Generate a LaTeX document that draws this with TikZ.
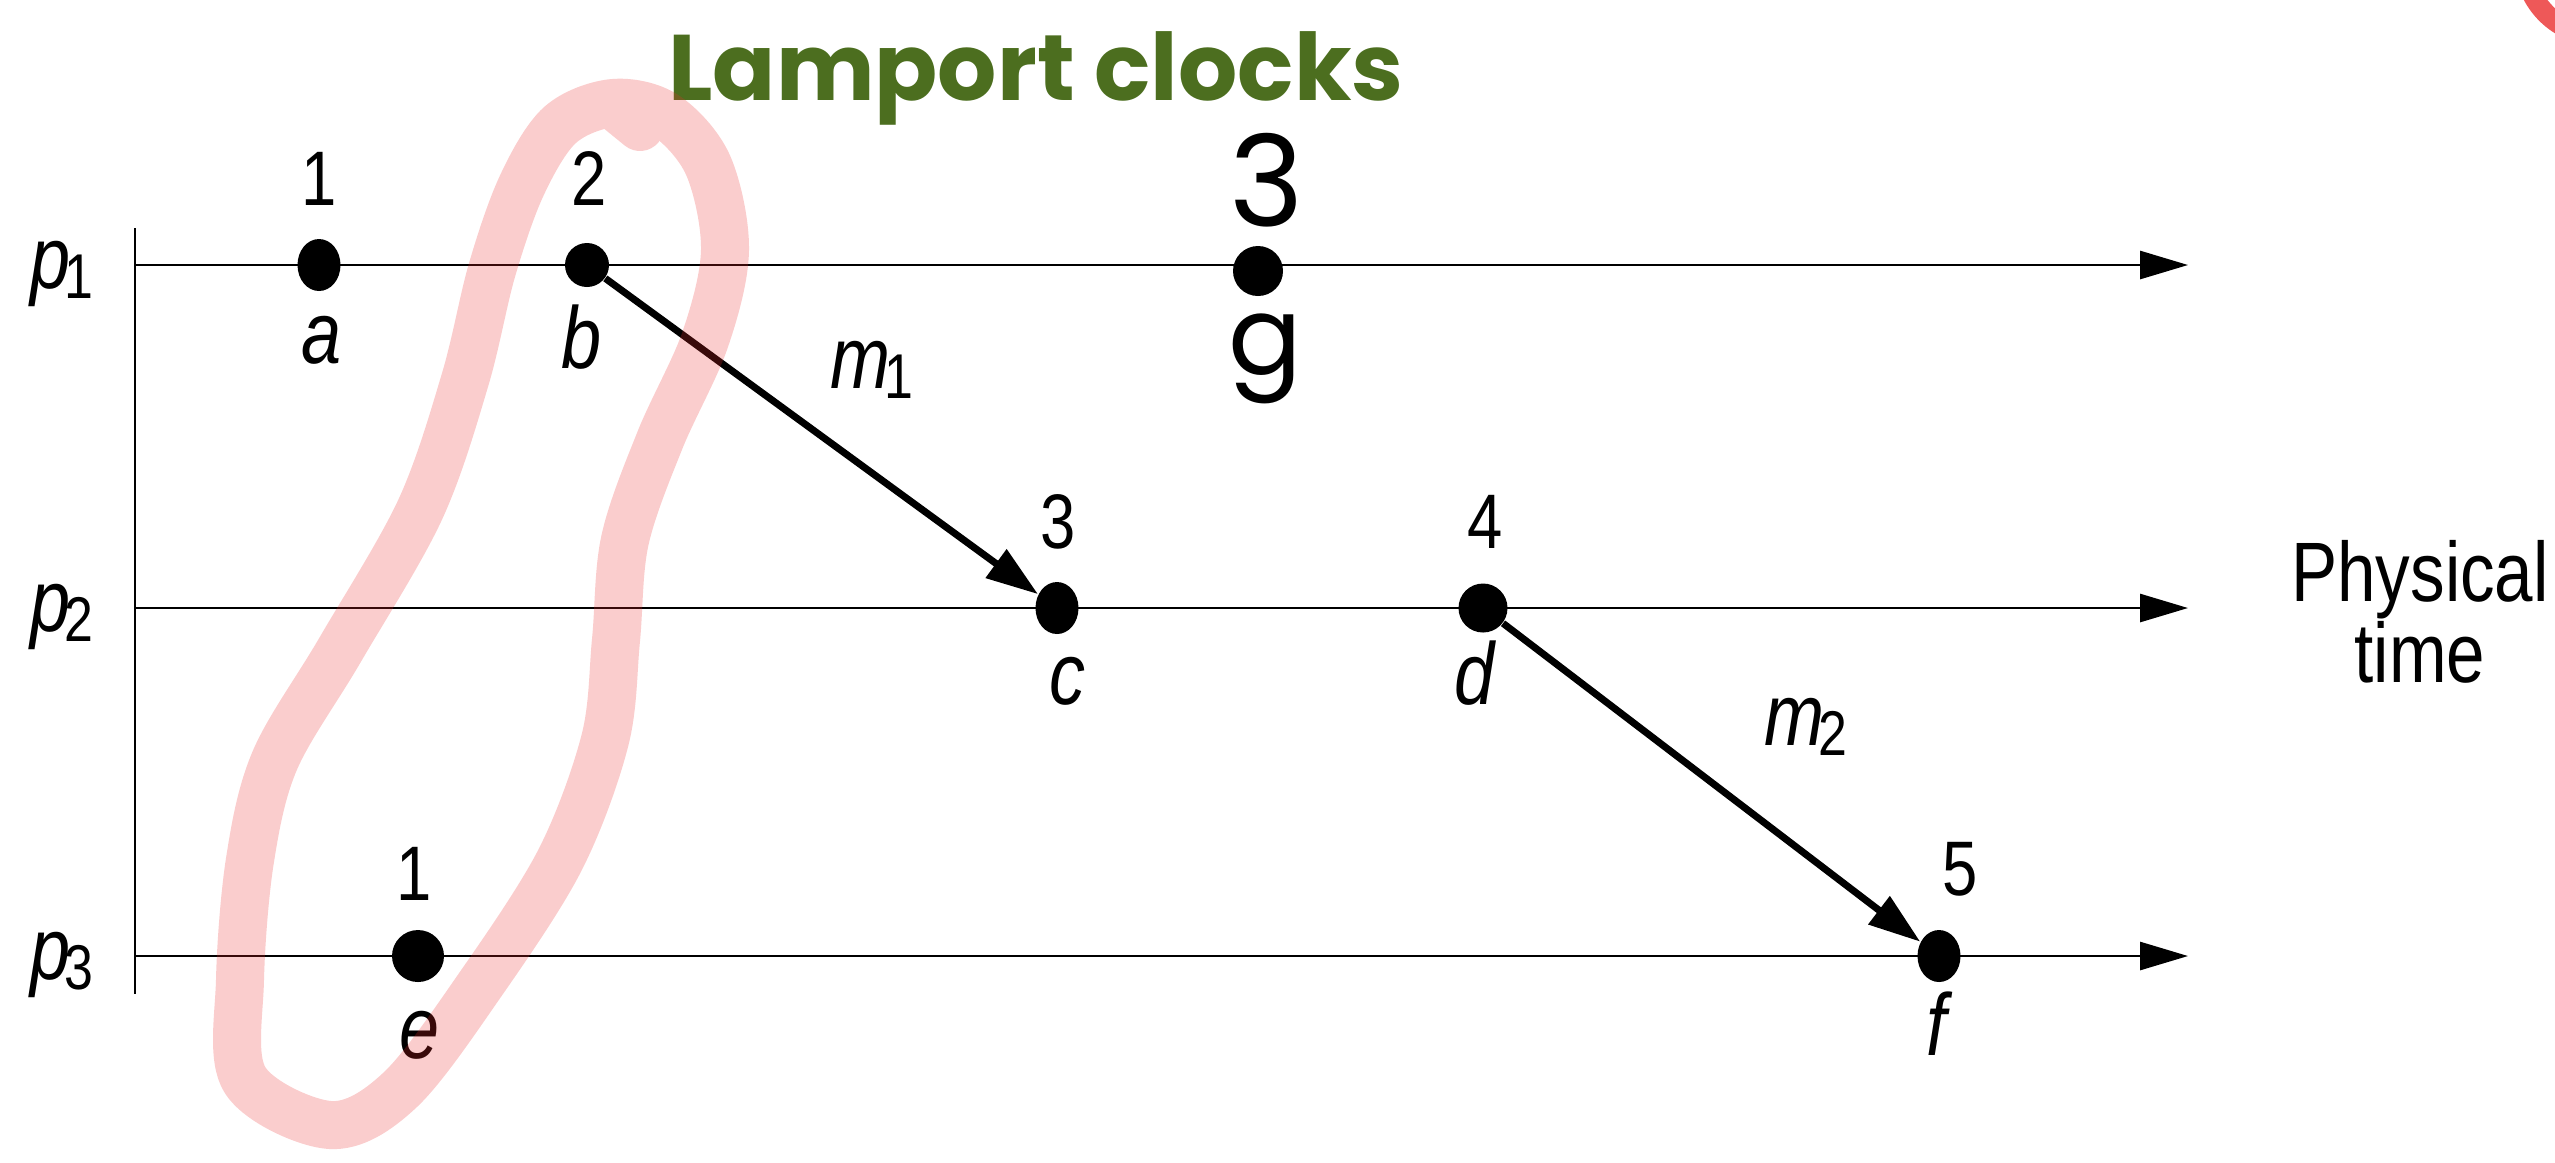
\documentclass[tikz,border=0pt]{standalone}
\usepackage{fontspec}
\setmainfont[FakeStretch=0.82]{Liberation Sans}
\newfontfamily\titlefont{Poppins}
\usetikzlibrary{arrows.meta,shapes.geometric}

\definecolor{lamportgreen}{RGB}{76,110,31}
\definecolor{markred}{RGB}{235,45,45}
\definecolor{cornerred}{RGB}{238,88,88}

% italic name with a lowered upright index
\newcommand{\lsub}[2]{\textit{#1}\kern-0.06em\raisebox{-3pt}{\fontsize{18}{18}\selectfont #2}}

\begin{document}
\begin{tikzpicture}[x=1cm,y=1cm]
\tikzset{
  eventdot/.style={ellipse,fill=black,minimum width=4.3mm,minimum height=5.2mm,inner sep=0pt},
  rounddot/.style={circle,fill=black,minimum size=#1,inner sep=0pt},
  clocklabel/.style={anchor=base,inner sep=0pt,font=\fontsize{22}{22}\selectfont},
  eventlabel/.style={anchor=base,inner sep=0pt,font=\fontsize{25}{25}\selectfont\itshape},
  proclabel/.style={anchor=base,inner sep=0pt,font=\fontsize{25}{25}\selectfont},
  timeline/.style={draw=black,line width=0.8pt,-{Triangle[length=4.8mm,width=2.8mm]}},
  axisline/.style={draw=black,line width=0.8pt},
  message/.style={draw=black,line width=2pt,-{Triangle[length=5.2mm,width=3.4mm]}},
  handmark/.style={draw=markred,line width=4.8mm,line cap=round,line join=round},
  handtext/.style={anchor=base,inner sep=0pt,font=\titlefont}
}
\useasboundingbox (0,0) rectangle (25.55,-11.62);

% title
\node[handtext,text=lamportgreen,font=\titlefont\bfseries\fontsize{26.5}{26.5}\selectfont] (n_title) at (10.36,-1.00) {Lamport clocks};

% process lines
\coordinate (v_top) at (1.35,-2.28);
\coordinate (v_bot) at (1.35,-9.94);
\coordinate (s_1) at (1.35,-2.65);
\coordinate (t_1) at (21.88,-2.65);
\coordinate (s_2) at (1.35,-6.08);
\coordinate (t_2) at (21.88,-6.08);
\coordinate (s_3) at (1.35,-9.56);
\coordinate (t_3) at (21.88,-9.56);
\draw[axisline] (v_top) -- (v_bot);
\draw[timeline] (s_1) -- (t_1);
\draw[timeline] (s_2) -- (t_2);
\draw[timeline] (s_3) -- (t_3);

\node[proclabel] (n_p1) at (0.62,-2.88) {\lsub{p}{1}};
\node[proclabel] (n_p2) at (0.62,-6.31) {\lsub{p}{2}};
\node[proclabel] (n_p3) at (0.62,-9.79) {\lsub{p}{3}};

% events
\node[eventdot] (n_a) at (3.19,-2.65) {};
\node[rounddot=4.4mm] (n_b) at (5.87,-2.65) {};
\node[rounddot=5mm] (n_g) at (12.58,-2.71) {};
\node[eventdot] (n_c) at (10.57,-6.08) {};
\node[rounddot=4.9mm] (n_d) at (14.83,-6.08) {};
\node[rounddot=5.2mm] (n_e) at (4.18,-9.56) {};
\node[eventdot] (n_f) at (19.39,-9.56) {};

% clock values
\node[clocklabel] (n_ta) at (3.19,-2.05) {1};
\node[clocklabel] (n_tb) at (5.89,-2.05) {2};
\node[clocklabel] (n_tc) at (10.58,-5.48) {3};
\node[clocklabel] (n_td) at (14.85,-5.48) {4};
\node[clocklabel] (n_te) at (4.14,-9.00) {1};
\node[clocklabel] (n_tf) at (19.60,-8.95) {5};
\node[handtext,font=\titlefont\fontsize{36}{36}\selectfont] (n_tg) at (12.67,-2.26) {3};

% event names
\node[eventlabel] (n_la) at (3.22,-3.63) {a};
\node[eventlabel] (n_lb) at (5.82,-3.68) {b};
\node[eventlabel] (n_lc) at (10.67,-7.04) {c};
\node[eventlabel] (n_ld) at (14.75,-7.04) {d};
\node[eventlabel] (n_le) at (4.20,-10.58) {e};
\node[eventlabel] (n_lf) at (19.36,-10.55) {f};
\node[handtext,font=\titlefont\fontsize{31}{31}\selectfont] (n_lg) at (12.65,-3.74) {g};

% messages
\draw[message] (n_b) -- (n_c);
\draw[message] (n_d) -- (n_f);
\node[proclabel] (n_m1) at (8.72,-3.88) {\lsub{m}{1}};
\node[proclabel] (n_m2) at (18.06,-7.45) {\lsub{m}{2}};

\node[inner sep=0pt,anchor=north,align=center,font=\fontsize{24}{23}\selectfont] (n_phys) at (24.20,-5.40) {Physical\\time};

% hand drawn marks
\begin{scope}[transparency group,opacity=0.24]
\draw[handmark] plot[smooth cycle,tension=0.55] coordinates {
  (6.13,-1.03) (5.60,-1.25) (5.22,-1.85) (4.92,-2.70) (4.65,-3.80) (4.20,-5.10)
  (3.40,-6.50) (2.75,-7.60) (2.50,-8.60) (2.40,-9.80) (2.45,-10.80) (3.30,-11.25)
  (4.00,-10.90) (4.80,-9.85) (5.60,-8.60) (6.05,-7.40) (6.16,-6.40) (6.25,-5.40)
  (6.60,-4.40) (7.05,-3.40) (7.25,-2.50) (7.08,-1.65) (6.65,-1.15)};
\draw[handmark] (6.40,-1.27) -- (6.13,-1.05);
\end{scope}
\begin{scope}
\clip (0,0) rectangle (25.55,-11.62);
\draw[draw=cornerred,line width=2mm] (26.00,0.40) circle (0.76);
\end{scope}
\end{tikzpicture}
\end{document}
